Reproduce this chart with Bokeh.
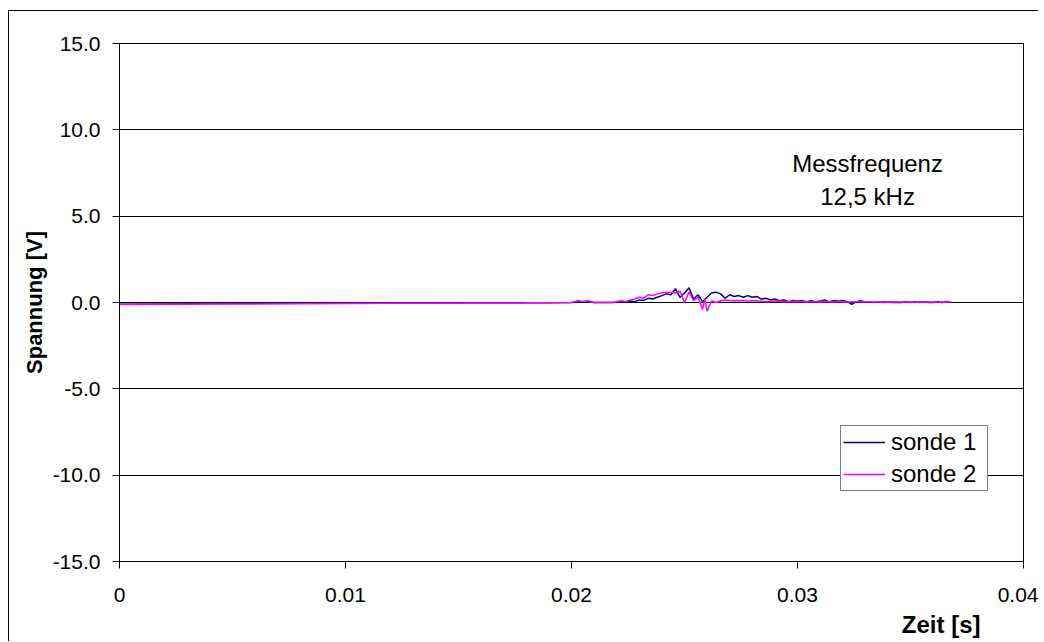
from bokeh.plotting import figure
from bokeh.models import (FixedTicker, Label, Legend, LegendItem, Title,
                          ColumnDataSource, Range1d)
from bokeh.embed import file_html
from bokeh.resources import INLINE

# ---- data ----
s1_t = [0.0, 0.002, 0.004, 0.006, 0.008, 0.010, 0.012, 0.014, 0.016, 0.018, 0.019,
        0.0200, 0.0203, 0.0205, 0.0207, 0.0210, 0.0215, 0.0220,
        0.0222, 0.0224, 0.0226, 0.0228, 0.0230, 0.0232, 0.0234, 0.0236, 0.0238,
        0.0240, 0.0242, 0.0244, 0.0246, 0.0248, 0.0250, 0.0252, 0.0254, 0.0256, 0.0258,
        0.0260, 0.0262, 0.0264, 0.0266, 0.0268, 0.0270, 0.0272, 0.0274, 0.0276, 0.0278,
        0.0280, 0.0282, 0.0284, 0.0286, 0.0288, 0.0290, 0.0292, 0.0294, 0.0296, 0.0298,
        0.0300, 0.0302, 0.0304, 0.0306, 0.0308, 0.0310, 0.0312, 0.0314, 0.0316, 0.0318,
        0.0320, 0.0322, 0.0324, 0.0326, 0.0328, 0.0330, 0.0332, 0.0334, 0.0336, 0.0338,
        0.0340, 0.0342, 0.0344, 0.0346, 0.0348, 0.0350, 0.0352, 0.0354, 0.0356, 0.0358,
        0.0360, 0.0362, 0.0364, 0.0366, 0.0368]
s1_v = [-0.10, -0.08, -0.06, -0.05, -0.05, -0.04, -0.03, -0.03, -0.02, -0.02, -0.01,
        0.00, 0.08, 0.03, 0.08, 0.00, 0.00, 0.02,
        0.05, 0.00, 0.08, 0.05, 0.15, 0.12, 0.25, 0.20, 0.30,
        0.40, 0.50, 0.45, 0.80, 0.30, 0.55, 0.85, 0.20, 0.45, 0.05,
        0.30, 0.55, 0.60, 0.50, 0.25, 0.45, 0.35, 0.40, 0.30, 0.40,
        0.30, 0.35, 0.20, 0.25, 0.15, 0.20, 0.10, 0.15, 0.05, 0.12,
        0.08, 0.10, 0.05, 0.10, 0.05, 0.08, 0.15, 0.05, 0.10, 0.08,
        0.12, 0.05, -0.10, 0.05, 0.10, 0.02, 0.05, 0.00, 0.05, 0.00,
        0.03, 0.00, 0.02, 0.00, 0.06, 0.00, 0.05, 0.00, 0.05, 0.00,
        0.00, 0.06, 0.00, 0.06, 0.00]

s2_t = [0.0, 0.002, 0.004, 0.006, 0.008, 0.010, 0.012, 0.014, 0.016, 0.018,
        0.0200, 0.0203, 0.0205, 0.0207, 0.0210, 0.0218,
        0.0222, 0.0224, 0.0226, 0.0228, 0.0230, 0.0232, 0.0234, 0.0236, 0.0238,
        0.0240, 0.0242, 0.0244, 0.0246, 0.0248, 0.0250, 0.0252, 0.0254, 0.0256, 0.0258,
        0.0259, 0.0260, 0.0262, 0.0264, 0.0266, 0.0268, 0.0270, 0.0274, 0.0278,
        0.0282, 0.0286, 0.0290, 0.0294, 0.0298, 0.0302, 0.0306, 0.0310, 0.0314,
        0.0318, 0.0322, 0.0326, 0.0330, 0.0334, 0.0338, 0.0342, 0.0346, 0.0350,
        0.0354, 0.0358, 0.0362, 0.0366, 0.0368]
s2_v = [-0.12, -0.10, -0.09, -0.08, -0.07, -0.06, -0.05, -0.04, -0.03, -0.02,
        0.00, 0.10, 0.05, 0.10, 0.00, 0.00,
        0.10, 0.05, 0.15, 0.20, 0.30, 0.25, 0.45, 0.40, 0.50,
        0.55, 0.60, 0.60, 0.55, 0.65, 0.00, 0.60, 0.10, 0.30, -0.40,
        0.20, -0.50, 0.10, 0.00, 0.10, 0.15, 0.10, 0.12, 0.08,
        0.10, 0.05, 0.08, 0.05, 0.06, 0.04, 0.05, 0.06, 0.04,
        0.05, 0.03, 0.05, 0.04, 0.03, 0.04, 0.03, 0.03, 0.03,
        0.03, 0.03, 0.03, 0.03, 0.03]

x_ticks = [0.0, 0.01, 0.02, 0.03, 0.04]
x_tick_labels = ["0", "0.01", "0.02", "0.03", "0.04"]
y_ticks = [-15, -10, -5, 0, 5, 10, 15]
y_tick_labels = ["-15.0", "-10.0", "-5.0", "0.0", "5.0", "10.0", "15.0"]
series_names = ["sonde 1", "sonde 2"]
series_colors = ["#000080", "#ff00ff"]

FONT = "Liberation Sans"

p = figure(width=1030, height=631, output_backend="svg", toolbar_location=None,
           x_range=Range1d(0, 0.04), y_range=Range1d(-15, 15),
           min_border_left=110, min_border_right=16, min_border_top=32, min_border_bottom=81)
p.styles = {"margin-left": "8px", "margin-top": "10px",
            "border-left": "1px solid black", "border-top": "1px solid black"}
p.background_fill_color = "white"
p.border_fill_color = "white"
p.outline_line_color = "#000000"
p.outline_line_width = 1

# axes
for ax in (p.xaxis[0], p.yaxis[0]):
    ax.major_label_text_font = FONT
    ax.major_label_text_font_size = "21px"
    ax.major_label_text_color = "black"
    ax.axis_line_color = "black"
    ax.major_tick_line_color = "black"
    ax.major_tick_out = 7
    ax.major_tick_in = 0
    ax.minor_tick_line_color = None

p.xaxis.ticker = FixedTicker(ticks=x_ticks)
p.xaxis.major_label_overrides = {t: l for t, l in zip(x_ticks, x_tick_labels)}
p.xaxis.major_label_standoff = 19
p.yaxis.ticker = FixedTicker(ticks=y_ticks)
p.yaxis.major_label_overrides = {t: l for t, l in zip(y_ticks, y_tick_labels)}
p.yaxis.major_label_standoff = 12

p.yaxis.axis_label = "Spannung [V]"
p.yaxis.axis_label_text_font = FONT
p.yaxis.axis_label_text_font_size = "22px"
p.yaxis.axis_label_text_font_style = "bold"
p.yaxis.axis_label_text_color = "black"
p.yaxis.axis_label_standoff = 3

p.xgrid.grid_line_color = None
p.ygrid.ticker = FixedTicker(ticks=y_ticks)
p.ygrid.grid_line_color = "black"
p.ygrid.grid_line_width = 1

# lines
src1 = ColumnDataSource(dict(t=s1_t, v=s1_v))
src2 = ColumnDataSource(dict(t=s2_t, v=s2_v))
r1 = p.line("t", "v", source=src1, line_color=series_colors[0], line_width=1.5)
r2 = p.line("t", "v", source=src2, line_color=series_colors[1], line_width=1.5)

legend = Legend(items=[LegendItem(label=series_names[0], renderers=[r1]),
                       LegendItem(label=series_names[1], renderers=[r2])],
                location=(721, 70))
legend.label_text_font = FONT
legend.label_text_font_size = "24px"
legend.label_text_color = "black"
legend.border_line_color = "black"
legend.border_line_width = 1
legend.background_fill_color = "white"
legend.background_fill_alpha = 1.0
legend.padding = 2
legend.spacing = 4
legend.margin = 0
legend.glyph_width = 42
legend.glyph_height = 28
legend.label_height = 28
legend.label_width = 94
legend.label_standoff = 6
p.add_layout(legend)

# annotation
for txt, yv in (("Messfrequenz", 8.05), ("12,5 kHz", 6.14)):
    p.add_layout(Label(x=0.0331, y=yv, text=txt, text_align="center", text_baseline="middle",
                       text_font=FONT, text_font_size="24px", text_color="black"))

# x-axis title, right-aligned near the end of the axis
p.add_layout(Title(text="Zeit [s]", align="right", offset=43, text_font=FONT,
                   text_font_size="24px", text_font_style="bold", text_color="black",
                   standoff=8), "below")

open("out.html", "w").write(file_html(p, INLINE))
